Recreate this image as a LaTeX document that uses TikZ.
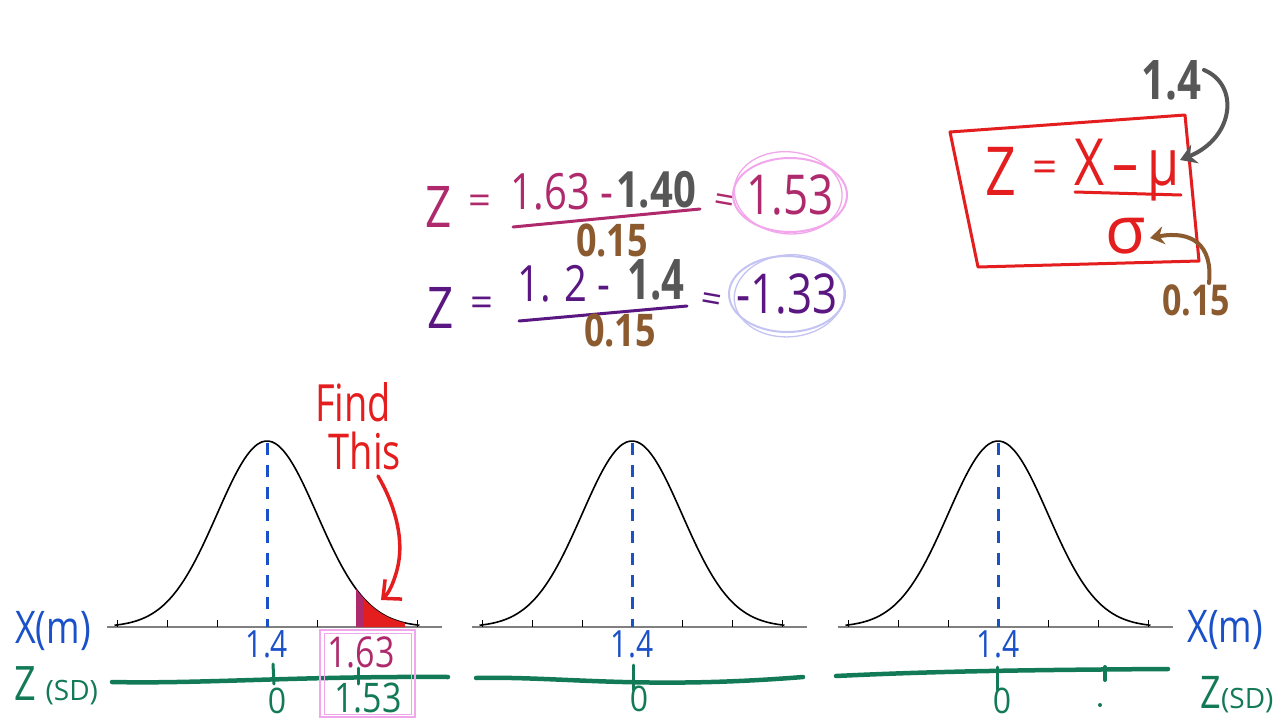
\documentclass[tikz,border=0pt]{standalone}
\usepackage{fontspec}
\usepackage{graphicx}
\setmainfont{Open Sans}
\usetikzlibrary{arrows.meta}
\definecolor{eqmag}{HTML}{AE2A6C}
\definecolor{eqpur}{HTML}{5A1782}
\definecolor{inkgray}{HTML}{575757}
\definecolor{inkbrown}{HTML}{8B5A2E}
\definecolor{ringpink}{HTML}{F2A6EC}
\definecolor{ringblue}{HTML}{C4C4F2}
\definecolor{inkred}{HTML}{E41E1E}
\definecolor{inkblue}{HTML}{1A50C8}
\definecolor{inkgreen}{HTML}{137A58}
\newcommand{\fsz}[1]{\fontsize{#1}{#1}\selectfont}
\newcommand{\hand}[2][1.25]{\scalebox{1}[#1]{#2}}
\begin{document}
\begin{tikzpicture}[x=1pt,y=-1pt,
  txt/.style={inner sep=0pt,anchor=center},
  pen/.style={line width=3pt,line cap=round,line join=round}]
\useasboundingbox (0,0) rectangle (1280,720);
\fill[white] (0,0) rectangle (1280,720);

% first z score
\node[txt,eqmag] (z1) at (439,207) {\fsz{46}\hand{Z}};
\node[txt,eqmag] (eq1a) at (480,205) {\fsz{40}=};
\node[txt,eqmag] (num1a) at (562,192) {\fsz{40}\hand{1.63 -}};
\node[txt,inkgray] (num1b) at (656,190) {\fsz{40}\bfseries\hand{1.40}};
\draw[pen,eqmag] (513,227) -- (700,209);
\node[txt,inkbrown] (den1) at (612,240) {\fsz{36}\bfseries\hand{0.15}};
\node[txt,eqmag,rotate=-10] (eq1b) at (724,204) {\fsz{36}=};
\node[txt,eqmag] (res1) at (790,195) {\fsz{44}\hand{1.53}};
\draw[ringpink,line width=2pt] (res1) ellipse [x radius=57pt,y radius=37pt];
\draw[ringpink,line width=1.3pt,rotate around={-6:(res1)}] ([xshift=-2pt,yshift=2pt]res1.center) ellipse [x radius=54pt,y radius=41pt];

% second z score
\node[txt,eqpur] (z2) at (441,308) {\fsz{46}\hand{Z}};
\node[txt,eqpur] (eq2a) at (482,307) {\fsz{40}=};
\node[txt,eqpur] (num2a) at (564,284) {\fsz{40}\hand{1. 2 -}};
\node[txt,inkgray] (num2b) at (656,280) {\fsz{40}\bfseries\hand[1.4]{1.4}};
\draw[pen,eqpur] (519,321) -- (687,306);
\node[txt,inkbrown] (den2) at (620,330) {\fsz{36}\bfseries\hand{0.15}};
\node[txt,eqpur,rotate=-10] (eq2b) at (711,303) {\fsz{36}=};
\node[txt,eqpur] (res2) at (787,294) {\fsz{44}\hand{-1.33}};
\draw[ringblue,line width=2pt] (res2) ellipse [x radius=58pt,y radius=38pt];
\draw[ringblue,line width=1.3pt,rotate around={5:(res2)}] ([xshift=2pt,yshift=-2pt]res2.center) ellipse [x radius=55pt,y radius=41pt];

% formula box
\draw[pen,inkred] (950,132) -- (1185,115) -- (1199,261) -- (978,267) -- cycle;
\node[txt,inkred] (zf) at (1001,171) {\fsz{54}\hand{Z}};
\node[txt,inkred] (eqf) at (1045,172) {\fsz{44}=};
\node[txt,inkred] (xmu) at (1127,170) {\fsz{52}\hand{X\,–\,μ}};
\draw[pen,inkred] (1075,192) -- (1181,195);
\node[txt,inkred] (sig) at (1126,236) {\fsz{66}σ};
\node[txt,inkgray] (mu) at (1171,80) {\fsz{42}\bfseries\hand[1.3]{1.4}};
\node[txt,inkbrown] (sd) at (1196,300) {\fsz{34}\bfseries\hand{0.15}};
\coordinate (mutip) at (1180,160);
\coordinate (sigtip) at (1150,238);
\draw[pen,inkgray,line width=4pt,-{Stealth[length=16pt,width=20pt]}] (1204,70) .. controls (1240,85) and (1234,138) .. (mutip);
\draw[pen,inkbrown,line width=4pt,-{Stealth[length=14pt,width=18pt]}] (1209,283) .. controls (1213,245) and (1192,230) .. (sigtip);

% three normal curves
\foreach \c/\n in {267/a,632/b,998/c}{
  \draw[gray,line width=1.3pt] (\c-160,627) -- (\c+175,627);
  \foreach \k in {-3,-2,-1,1,2,3}
    \draw[black,line width=0.9pt] (\c+\k*50,620) -- (\c+\k*50,627);
  \draw[black,line width=1.6pt] plot[domain=-3.05:3.05,samples=90,smooth] ({\c+50*\x},{627-186*exp(-\x*\x/2)});
  \draw[inkblue,line width=3pt,dash pattern=on 12pt off 10pt] (\c,443) -- (\c,627);
  \node[txt,inkblue] (mean\n) at (\c,644) {\fsz{30}\hand{1.4}};
}

% shaded tail
\fill[inkred] plot[domain=1.9:2.76,samples=30] ({267+50*\x},{627-186*exp(-\x*\x/2)}) -- (405,627) -- (362,627) -- cycle;
\fill[eqmag] plot[domain=1.78:1.92,samples=10] ({267+50*\x},{627-186*exp(-\x*\x/2)}) -- (363,627) -- (356,627) -- cycle;

% find this
\node[txt,inkred] (find) at (353,402) {\fsz{38}\hand[1.35]{Find}};
\node[txt,inkred] (this) at (365,451) {\fsz{38}\hand[1.3]{This}};
\coordinate (tailtip) at (381,600);
\draw[pen,inkred,line width=3.5pt,-{Straight Barb[length=14pt,width=26pt]}] (378,476) .. controls (395,505) and (405,540) .. (397,570) .. controls (393,585) and (388,594) .. (tailtip);

% z axes
\draw[pen,inkgreen,line width=4.5pt] (112,682) .. controls (200,684) and (300,676) .. (448,677);
\draw[pen,inkgreen,line width=4.5pt] (476,678) .. controls (560,676) and (640,690) .. (803,677);
\draw[pen,inkgreen,line width=4.5pt] (836,676) .. controls (920,672) and (1000,670) .. (1168,669);
\draw[pen,inkgreen] (273,664) -- (274,684);
\draw[pen,inkgreen] (358,668) -- (358,684);
\draw[pen,inkgreen] (633,665) -- (633,690);
\draw[pen,inkgreen] (997,667) -- (997,690);
\draw[pen,inkgreen,line width=4pt] (1105,667) -- (1105,680);
\fill[inkgreen] (1100,705) circle (2pt);
\node[txt,inkgreen] (zero1) at (277,701) {\fsz{32}\hand[1.1]{0}};
\node[txt,inkgreen] (zero2) at (639,699) {\fsz{32}\hand[1.1]{0}};
\node[txt,inkgreen] (zero3) at (1002,701) {\fsz{32}\hand[1.1]{0}};

% axis labels
\node[txt,inkblue] (xl) at (53,631) {\fsz{36}\hand{X(m)}};
\node[txt,inkblue] (xr) at (1225,630) {\fsz{36}\hand{X(m)}};
\node[txt,inkgreen] (zl) at (56,686) {\fsz{38}\hand{Z} {\fsz{28}(SD)}};
\node[txt,inkgreen] (zr) at (1237,695) {\fsz{36}\hand{Z}{\fsz{28}(SD)}};

% marked values
\draw[ringpink,line width=1.2pt] (320,630) rectangle (415,717);
\draw[ringpink,line width=1pt] (324,633) rectangle (411,714);
\node[txt,eqmag] (x163) at (361,652) {\fsz{34}\hand{1.63}};
\node[txt,inkgreen] (z153) at (368,698) {\fsz{34}\hand[1.2]{1.53}};
\end{tikzpicture}
\end{document}
